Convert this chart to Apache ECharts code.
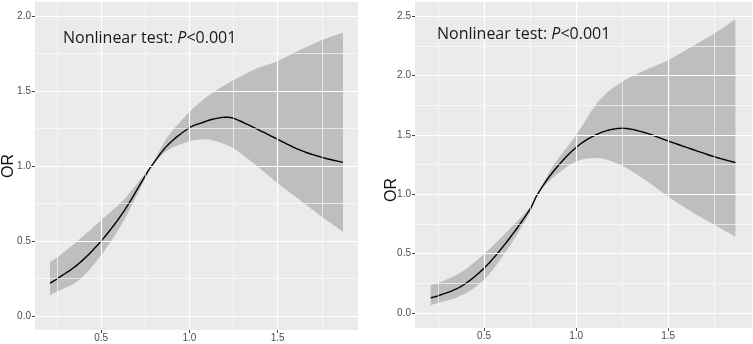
<!DOCTYPE html>
<html>
<head>
<meta charset="utf-8">
<script src="https://cdn.jsdelivr.net/npm/echarts@6/dist/echarts.min.js"></script>
<style>
  html, body { margin: 0; padding: 0; background: #fff; }
  #main { width: 753px; height: 344px; }
</style>
</head>
<body>
<div id="main"></div>
<script>
/*
 * 数据：左右两个限制性立方样条图
 */
// 左图
var xLeft     = [0.21, 0.25, 0.375, 0.5, 0.625, 0.75, 0.785, 0.875, 1.0, 1.075, 1.125, 1.2, 1.25, 1.375, 1.5, 1.625, 1.75, 1.87];
var orLeft    = [0.218, 0.247, 0.351, 0.5, 0.692, 0.935, 1.0, 1.137, 1.255, 1.29, 1.31, 1.325, 1.318, 1.251, 1.178, 1.107, 1.058, 1.024];
var upperLeft = [0.36, 0.39, 0.509, 0.64, 0.772, 0.952, 1.004, 1.192, 1.36, 1.44, 1.484, 1.54, 1.573, 1.647, 1.70, 1.773, 1.84, 1.891];
var lowerLeft = [0.137, 0.162, 0.24, 0.405, 0.629, 0.918, 0.996, 1.102, 1.165, 1.178, 1.173, 1.145, 1.118, 1.007, 0.885, 0.773, 0.662, 0.562];

// 右图
var xRight     = [0.21, 0.25, 0.375, 0.5, 0.625, 0.75, 0.79, 0.875, 1.0, 1.125, 1.25, 1.375, 1.5, 1.625, 1.75, 1.865];
var orRight    = [0.128, 0.145, 0.224, 0.378, 0.603, 0.876, 1.0, 1.19, 1.395, 1.514, 1.556, 1.519, 1.449, 1.382, 1.317, 1.267];
var upperRight = [0.238, 0.252, 0.343, 0.498, 0.687, 0.894, 1.005, 1.24, 1.5, 1.79, 1.948, 2.046, 2.13, 2.242, 2.355, 2.475];
var lowerRight = [0.067, 0.084, 0.147, 0.28, 0.532, 0.848, 0.995, 1.14, 1.275, 1.304, 1.239, 1.121, 0.981, 0.855, 0.743, 0.644];

// 刻度
var xTicks       = [0.5, 1.0, 1.5];
var xMinor       = [0.25, 0.75, 1.25, 1.75];
var yTicksLeft   = [0, 0.5, 1.0, 1.5, 2.0];
var yMinorLeft   = [0.25, 0.75, 1.25, 1.75];
var yTicksRight  = [0, 0.5, 1.0, 1.5, 2.0, 2.5];
var yMinorRight  = [0.25, 0.75, 1.25, 1.75, 2.25];

var annotation = '{a|Nonlinear test: }{b|P}{a|<0.001}';

// 网格线（ggplot 风格：白色主/次网格）
function gridLines(xs, xm, ys, ym) {
  var d = [];
  xm.forEach(function(v) { d.push({ xAxis: v, lineStyle: { width: 0.6 } }); });
  ym.forEach(function(v) { d.push({ yAxis: v, lineStyle: { width: 0.6 } }); });
  xs.forEach(function(v) { d.push({ xAxis: v, lineStyle: { width: 1.2 } }); });
  ys.forEach(function(v) { d.push({ yAxis: v, lineStyle: { width: 1.2 } }); });
  return d;
}

// 三次 Hermite 平滑（仅用于绘制曲线）
function smoothPath(xs, ys, api, steps) {
  var n = xs.length, m = [], out = [];
  for (var i = 0; i < n; i++) {
    if (i === 0) m.push((ys[1] - ys[0]) / (xs[1] - xs[0]));
    else if (i === n - 1) m.push((ys[n - 1] - ys[n - 2]) / (xs[n - 1] - xs[n - 2]));
    else m.push((ys[i + 1] - ys[i - 1]) / (xs[i + 1] - xs[i - 1]));
  }
  for (var k = 0; k < n - 1; k++) {
    var h = xs[k + 1] - xs[k];
    for (var s = 0; s < steps; s++) {
      var t = s / steps, t2 = t * t, t3 = t2 * t;
      var y = (2 * t3 - 3 * t2 + 1) * ys[k] + (t3 - 2 * t2 + t) * h * m[k] +
              (-2 * t3 + 3 * t2) * ys[k + 1] + (t3 - t2) * h * m[k + 1];
      out.push(api.coord([xs[k] + t * h, y]));
    }
  }
  out.push(api.coord([xs[n - 1], ys[n - 1]]));
  return out;
}

// 置信区间带
function ribbon(xs, lo, hi, idx) {
  return {
    type: 'custom', xAxisIndex: idx, yAxisIndex: idx, z: 2, silent: true,
    data: xs.map(function(x, i) { return [x, lo[i], hi[i]]; }),
    renderItem: function(params, api) {
      if (params.dataIndex !== 0) return null;
      var top = smoothPath(xs, hi, api, 10);
      var bottom = smoothPath(xs, lo, api, 10).reverse();
      return {
        type: 'polygon',
        shape: { points: top.concat(bottom) },
        style: { fill: 'rgba(0,0,0,0.19)' }
      };
    }
  };
}

// OR 曲线
function curve(xs, ys, idx) {
  return {
    type: 'custom', xAxisIndex: idx, yAxisIndex: idx, z: 3, silent: true,
    data: xs.map(function(x, i) { return [x, ys[i]]; }),
    renderItem: function(params, api) {
      if (params.dataIndex !== 0) return null;
      return {
        type: 'polyline',
        shape: { points: smoothPath(xs, ys, api, 10) },
        style: { stroke: '#000', lineWidth: 1.4, fill: null }
      };
    }
  };
}

function xAxisCfg(idx) {
  return {
    type: 'value', gridIndex: idx, min: 0.125, max: 1.955,
    splitLine: { show: false },
    axisLine: { show: false, onZero: false },
    axisTick: { show: true, customValues: xTicks, length: 3, lineStyle: { color: '#444', width: 1 } },
    axisLabel: {
      customValues: xTicks, margin: 3, color: '#4d4d4d', fontSize: 10,
      fontFamily: 'Liberation Sans',
      formatter: function(v) { return v.toFixed(1); }
    }
  };
}

function yAxisCfg(idx, min, max, ticks) {
  return {
    type: 'value', gridIndex: idx, min: min, max: max,
    splitLine: { show: false },
    axisLine: { show: false, onZero: false },
    axisTick: { show: true, customValues: ticks, length: 3, lineStyle: { color: '#444', width: 1 } },
    axisLabel: {
      customValues: ticks, margin: 4, color: '#4d4d4d', fontSize: 10,
      fontFamily: 'Liberation Sans',
      formatter: function(v) { return v.toFixed(1); }
    }
  };
}

var richStyle = {
  a: { fontFamily: 'Open Sans', fontSize: 16, fontWeight: 'normal', color: '#1a1a1a' },
  b: { fontFamily: 'Open Sans', fontSize: 16, fontWeight: 'normal', color: '#1a1a1a', fontStyle: 'italic' }
};

var series = [
  {
    type: 'line', xAxisIndex: 0, yAxisIndex: 0, data: [], z: 1, silent: true,
    markLine: { symbol: ['none', 'none'], silent: true, label: { show: false },
      lineStyle: { color: '#fff', type: 'solid' }, animation: false,
      data: gridLines(xTicks, xMinor, yTicksLeft, yMinorLeft) }
  },
  {
    type: 'line', xAxisIndex: 1, yAxisIndex: 1, data: [], z: 1, silent: true,
    markLine: { symbol: ['none', 'none'], silent: true, label: { show: false },
      lineStyle: { color: '#fff', type: 'solid' }, animation: false,
      data: gridLines(xTicks, xMinor, yTicksRight, yMinorRight) }
  },
  ribbon(xLeft, lowerLeft, upperLeft, 0),
  ribbon(xRight, lowerRight, upperRight, 1),
  curve(xLeft, orLeft, 0),
  curve(xRight, orRight, 1)
];

var option = {
  backgroundColor: '#fff',
  animation: false,
  title: [
    { text: annotation, left: 63, top: 30, padding: 0, textStyle: { rich: richStyle } },
    { text: annotation, left: 437, top: 26, padding: 0, textStyle: { rich: richStyle } }
  ],
  graphic: [
    { type: 'text', x: 9, y: 166, rotation: Math.PI / 2,
      style: { text: 'OR', font: '16px "Liberation Sans"', fill: '#111', align: 'center', verticalAlign: 'middle' } },
    { type: 'text', x: 392, y: 190, rotation: Math.PI / 2,
      style: { text: 'OR', font: '16px "Liberation Sans"', fill: '#111', align: 'center', verticalAlign: 'middle' } }
  ],
  grid: [
    { left: 35, top: 2, width: 323, height: 328, show: true, backgroundColor: '#ebebeb', borderWidth: 0 },
    { left: 415, top: 2, width: 337, height: 326, show: true, backgroundColor: '#ebebeb', borderWidth: 0 }
  ],
  xAxis: [xAxisCfg(0), xAxisCfg(1)],
  yAxis: [
    yAxisCfg(0, -0.094, 2.094, yTicksLeft),
    yAxisCfg(1, -0.126, 2.62, yTicksRight)
  ],
  series: series
};

var chart = echarts.init(document.getElementById('main'));
chart.setOption(option);
</script>
</body>
</html>
